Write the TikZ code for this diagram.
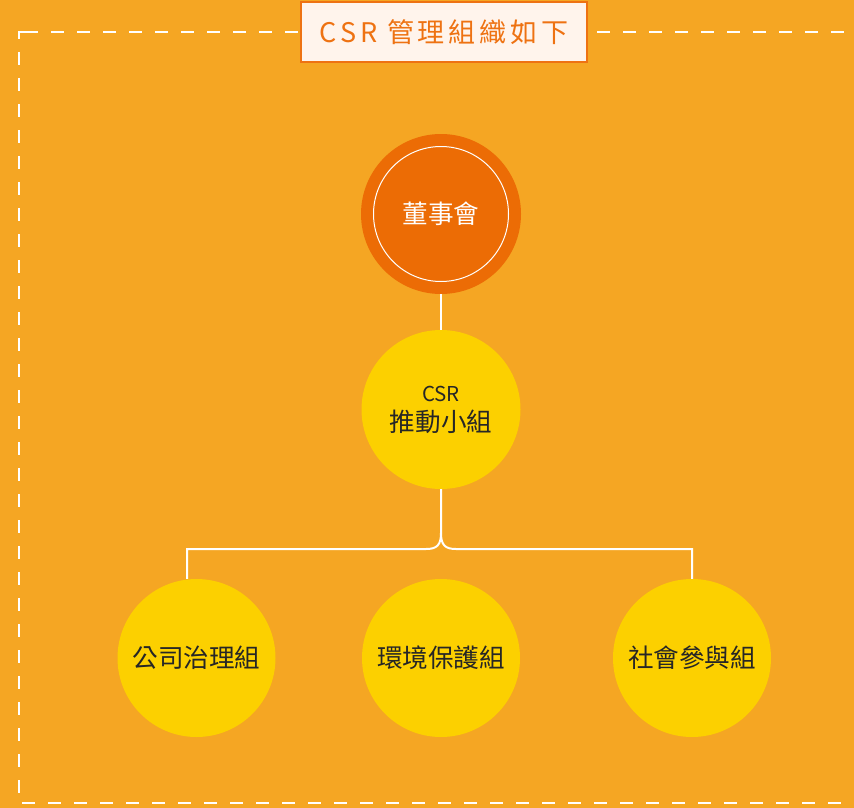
\documentclass[tikz,border=0pt]{standalone}
\usepackage{fontspec}
\setmainfont{Noto Sans CJK TC}
\definecolor{bg}{HTML}{F5A623}
\definecolor{yel}{HTML}{FCD000}
\definecolor{org}{HTML}{EC6C05}
\definecolor{titleorg}{HTML}{EE7212}
\definecolor{cream}{HTML}{FFF4EC}
\definecolor{ink}{HTML}{262626}
\tikzset{
  ycirc/.style={circle, fill=yel, inner sep=0pt, minimum size=158pt, text=ink, align=center, font=\fontsize{25.6}{30}\selectfont},
  ocirc/.style={circle, fill=org, inner sep=0pt, minimum size=160pt, text=white, font=\fontsize{25.6}{30}\selectfont},
  wline/.style={draw=white, line width=2pt},
  frame/.style={draw=white, line width=2pt, dash pattern=on 13pt off 13pt},
  titlebox/.style={draw=titleorg, line width=2pt, fill=cream, minimum width=286pt, minimum height=60pt, inner sep=0pt, text=titleorg, font=\fontsize{27}{30}\selectfont\addfontfeature{LetterSpace=14}}
}
\begin{document}
\begin{tikzpicture}[x=1pt,y=-1pt]
\fill[bg] (0,0) rectangle (854,808);
\useasboundingbox (0,0) rectangle (854,808);
\draw[frame] (25,32) -- (880,32) (25,32) -- (19,32) -- (19,803) -- (880,803);
\node[titlebox] (title) at (444,32) {CSR 管理組織如下};
\node[ocirc] (top) at (441,214) {董事會};
\node[ycirc, minimum size=159pt] (csr) at (441,409.5) {\fontsize{20.5}{27}\selectfont CSR\\推動小組};
\node[ycirc] (gl) at (196.5,658) {公司治理組};
\node[ycirc] (gm) at (441,658) {環境保護組};
\node[ycirc] (gr) at (692,658) {社會參與組};
\draw[white, line width=1pt] (top) circle (67.5pt);
\coordinate (j) at (441,549);
\draw[wline] (top.south) -- (csr.north);
\draw[wline] (csr.south) -- ([yshift=16pt]j) .. controls ([yshift=4pt]j) and ([xshift=-4pt]j) .. ([xshift=-15pt]j) -- ([xshift=-9.5pt]gl.north |- j) -- ([xshift=-9.5pt]gl.north);
\draw[wline] ([yshift=16pt]j) .. controls ([yshift=4pt]j) and ([xshift=4pt]j) .. ([xshift=15pt]j) -- (gr.north |- j) -- (gr.north);
\end{tikzpicture}
\end{document}
